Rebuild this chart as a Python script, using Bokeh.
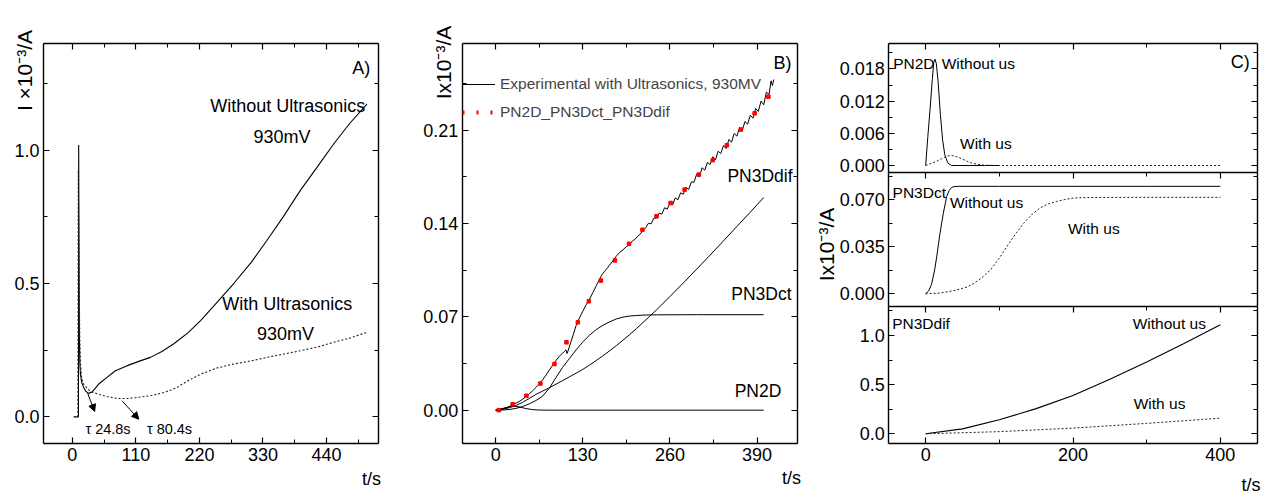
from bokeh.plotting import figure
from bokeh.layouts import row
from bokeh.models import (Range1d, LinearAxis, FixedTicker, Label, Arrow, NormalHead,
                          Legend, LegendItem)
from bokeh.embed import file_html
from bokeh.resources import INLINE

FONT = "Liberation Sans"

# ---------------- Panel A data ----------------
a_without_t = [2, 10.5, 10.9, 11.3, 11.7, 12.1, 13, 14, 16, 19.6, 23, 28.3, 34, 45.6, 60, 74.5,
               95, 115, 135, 155, 175, 200, 222, 250, 279, 310, 337, 365, 395, 425, 453, 480, 510]
a_without_i = [0, 0, 1.019, 0.75, 0.5, 0.3, 0.2, 0.16, 0.13, 0.11, 0.096, 0.088, 0.093, 0.123, 0.148, 0.173,
               0.192, 0.208, 0.223, 0.245, 0.273, 0.315, 0.361, 0.428, 0.499, 0.58, 0.662, 0.75, 0.85,
               0.94, 1.025, 1.1, 1.173]
a_with_t = [9.5, 10.2, 11, 12, 13, 14, 16, 18, 20, 22.5, 27, 34, 48, 60, 77, 95, 110, 135, 160, 181,
            200, 222, 250, 279, 310, 337, 365, 395, 425, 453, 480, 510]
a_with_i = [0, 0.925, 0.7, 0.45, 0.28, 0.2, 0.15, 0.13, 0.122, 0.115, 0.103, 0.093, 0.083, 0.076,
            0.069, 0.069, 0.072, 0.079, 0.092, 0.11, 0.135, 0.16, 0.183, 0.198, 0.21, 0.223, 0.235,
            0.248, 0.262, 0.28, 0.295, 0.317]
a_xticks = [0, 110, 220, 330, 440]
a_xtick_labels = ["0", "110", "220", "330", "440"]
a_xminor = [55, 165, 275, 385, 495]
a_yticks = [0.0, 0.5, 1.0]
a_ytick_labels = ["0.0", "0.5", "1.0"]
a_yminor = [0.25, 0.75, 1.25]

# ---------------- Panel B data ----------------
exp_t = [0, 5, 10, 15, 20, 25, 30, 35, 40, 45, 50, 55, 60, 65, 70, 75, 80, 85, 90, 95, 100,
         103, 105, 106.5, 108, 112, 116, 120, 125, 130, 135, 140, 145, 150, 155, 158, 162, 166,
         170, 175, 180, 185, 190, 195,
         200, 204, 208, 212, 216, 220, 224, 228, 232, 236, 240, 244, 248, 252, 256, 260, 264,
         268, 272, 276, 280, 284, 288, 292, 296, 300, 304, 308, 312, 316, 320, 324, 328, 332,
         336, 340, 344, 348, 352, 356, 360, 364, 368, 372, 376, 380, 384, 388, 392, 396, 400,
         404, 408, 411, 413, 415]
exp_i = [0, 0.0004, 0.001, 0.0018, 0.0027, 0.004, 0.0052, 0.0065, 0.0082, 0.0100, 0.0122, 0.0145,
         0.0170, 0.0197, 0.0228, 0.0262, 0.0300, 0.0337, 0.0372, 0.0405, 0.0428,
         0.0442, 0.0452, 0.0425, 0.0445, 0.0508, 0.0570, 0.0635, 0.0692, 0.0742, 0.0790, 0.0832,
         0.0882, 0.0932, 0.0982, 0.1012, 0.1038, 0.1062, 0.1088, 0.112, 0.1155, 0.1183, 0.1203,
         0.1226,
         0.1245, 0.1268, 0.1282, 0.1305, 0.1322, 0.1352, 0.1368, 0.1402, 0.1398, 0.1440, 0.1442,
         0.1478, 0.1470, 0.1518, 0.1508, 0.1552, 0.1540, 0.1592, 0.1578, 0.1630, 0.1620, 0.1672,
         0.1655, 0.1712, 0.1710, 0.1770, 0.1748, 0.1818, 0.1800, 0.1858, 0.1842, 0.1900, 0.1878,
         0.1942, 0.1925, 0.1985, 0.1962, 0.2030, 0.2010, 0.2075, 0.2055, 0.2120, 0.2098, 0.2165,
         0.2145, 0.2212, 0.2190, 0.2262, 0.2240, 0.2318, 0.2290, 0.2385, 0.2368, 0.2470, 0.2435,
         0.2480]
fit_t = [4.5, 25.4, 45.8, 66.7, 87.7, 105.6, 122.6, 139, 157, 178, 199, 219, 240, 261, 282, 303,
         324, 345, 366, 386.5, 407]
fit_i = [0, 0.0045, 0.0108, 0.02, 0.0346, 0.0509, 0.0659, 0.0817, 0.0972, 0.1123, 0.1248, 0.1353,
         0.1454, 0.1554, 0.1654, 0.1767, 0.1875, 0.1987, 0.2105, 0.2226, 0.2351]
dif_t = [0, 10, 20, 30, 40, 50, 60, 70, 80, 90, 100, 110, 120, 130, 140, 150, 160, 170, 180, 190,
         200, 210, 220, 230, 240, 260, 280, 300, 320, 340, 360, 380, 400]
dif_i = [0, 0.0006, 0.0018, 0.0035, 0.0058, 0.0088, 0.0118, 0.0143, 0.0168, 0.0195, 0.0222, 0.025,
         0.0277, 0.0306, 0.0338, 0.0372, 0.0408, 0.0445, 0.0484, 0.0525, 0.0567, 0.0612, 0.0658,
         0.0705, 0.0752, 0.0852, 0.0954, 0.1058, 0.1163, 0.127, 0.1378, 0.1485, 0.1595]
ct_t = [0, 10, 20, 30, 40, 50, 60, 70, 80, 90, 100, 110, 120, 130, 140, 150, 160, 170, 180, 190,
        200, 210, 220, 240, 300, 400]
ct_i = [0, 0.0001, 0.0005, 0.0013, 0.0027, 0.0047, 0.0072, 0.0105, 0.0165, 0.0245, 0.0322, 0.0387,
        0.0452, 0.0512, 0.0562, 0.0604, 0.0637, 0.0662, 0.0684, 0.0698, 0.0706, 0.071, 0.0713,
        0.0715, 0.0716, 0.0716]
p2d_t = [0, 10, 20, 28, 35, 45, 55, 65, 80, 400]
p2d_i = [0, 0.0012, 0.0025, 0.003, 0.0025, 0.0012, 0.0004, 0.0001, 0, 0]
b_xticks = [0, 130, 260, 390]
b_xtick_labels = ["0", "130", "260", "390"]
b_xminor = [65, 195, 325]
b_yticks = [0.0, 0.07, 0.14, 0.21]
b_ytick_labels = ["0.00", "0.07", "0.14", "0.21"]
b_yminor = [0.035, 0.105, 0.175, 0.245]

# ---------------- Panel C data ----------------
c2d_wo_t = [0, 3, 6, 9, 11, 12.7, 14.5, 17, 20, 23, 26, 30, 35, 45, 60, 80, 100]
c2d_wo_i = [0, 0.0054, 0.0105, 0.016, 0.0192, 0.0198, 0.019, 0.0155, 0.0095, 0.0048, 0.002, 0.0005,
            0, 0, 0, 0, 0]
c2d_w_t = [0, 8, 15, 22, 28, 33, 38, 44, 50, 56, 62, 70, 80, 100, 200, 300, 400]
c2d_w_i = [0, 0.0004, 0.0008, 0.0013, 0.0017, 0.00185, 0.0018, 0.00155, 0.0012, 0.0008, 0.0005,
           0.00022, 0.00005, 0, 0, 0, 0]
cct_wo_t = [0, 4, 8, 12, 15, 19.5, 24, 28.6, 32, 35, 38, 45, 100, 200, 300, 400]
cct_wo_i = [0, 0.002, 0.007, 0.017, 0.0275, 0.045, 0.06, 0.0725, 0.077, 0.079, 0.0798, 0.08, 0.08,
            0.08, 0.08, 0.08]
cct_w_t = [0, 20, 40, 55, 65, 76, 87.5, 100, 110, 122, 133, 145, 155.6, 167, 178, 190, 201, 220,
           300, 400]
cct_w_i = [0, 0.0005, 0.0025, 0.0048, 0.0075, 0.0118, 0.0175, 0.0265, 0.035, 0.0445, 0.0525,
           0.0595, 0.064, 0.067, 0.0688, 0.0703, 0.0713, 0.0717, 0.0718, 0.0718]
cdif_wo_t = [0, 50, 100, 150, 200, 250, 300, 350, 400]
cdif_wo_i = [0, 0.05, 0.142, 0.256, 0.39, 0.555, 0.729, 0.915, 1.108]
cdif_w_t = [0, 100, 200, 300, 400]
cdif_w_i = [0, 0.022, 0.058, 0.106, 0.159]
c_xticks = [0, 200, 400]
c_xtick_labels = ["0", "200", "400"]
c_xminor = [100, 300]
c1_yticks = [0.0, 0.006, 0.012, 0.018]
c1_ytick_labels = ["0.000", "0.006", "0.012", "0.018"]
c1_yminor = [0.003, 0.009, 0.015, 0.021]
c2_yticks = [0.0, 0.035, 0.07]
c2_ytick_labels = ["0.000", "0.035", "0.070"]
c2_yminor = [0.0175, 0.0525, 0.0875]
c3_yticks = [0.0, 0.5, 1.0]
c3_ytick_labels = ["0.0", "0.5", "1.0"]
c3_yminor = [0.25, 0.75, 1.25]

H = 493  # canvas height of every panel
TICK_SIZE = "18px"


def span_range(size, lo_px, hi_px, lo, hi, flip=False):
    """Range whose [lo, hi] data interval falls on canvas pixels [lo_px, hi_px]."""
    s = (hi - lo) / (hi_px - lo_px)
    if flip:  # vertical: lo_px is the top pixel of the box, hi_px its bottom pixel
        return Range1d(lo - (size - hi_px) * s, hi + lo_px * s)
    return Range1d(lo - lo_px * s, hi + (size - hi_px) * s)


def make_panel(w, box, xlim, ylim):
    l, t, r, b = box
    p = figure(width=w, height=H, x_range=span_range(w, l, r, *xlim),
               y_range=span_range(H, t, b, *ylim, flip=True),
               output_backend="svg", toolbar_location=None, title=None,
               x_axis_location=None, y_axis_location=None,
               min_border=0, min_border_left=0, min_border_right=0,
               min_border_top=0, min_border_bottom=0)
    p.grid.visible = False
    p.outline_line_color = None
    p.background_fill_color = "white"
    p.border_fill_color = "white"
    return p


def add_axis(p, side, fixed, bounds, ticks, labels, minor, show, yname="default"):
    ax = LinearAxis(fixed_location=fixed, bounds=bounds, y_range_name=yname)
    ax.ticker = FixedTicker(ticks=ticks, minor_ticks=minor)
    ax.axis_line_color = "black"
    ax.axis_line_width = 1.4
    ax.major_tick_in = 6
    ax.major_tick_out = 0
    ax.minor_tick_in = 4
    ax.minor_tick_out = 0
    ax.major_tick_line_color = "black"
    ax.minor_tick_line_color = "black"
    ax.major_tick_line_width = 1.2
    ax.minor_tick_line_width = 1.0
    ax.axis_label = None
    if show:
        ax.major_label_overrides = dict(zip(ticks, labels))
        ax.major_label_text_font = FONT
        ax.major_label_text_font_size = TICK_SIZE
        ax.major_label_text_color = "black"
        ax.major_label_standoff = 4
    else:
        ax.major_label_text_font_size = "0px"
        ax.major_label_standoff = 0
        ax.major_label_text_color = None
    p.add_layout(ax, side)


def box_axes(p, xlim, ylim, xt, xl, xm, yt, yl, ym, yname="default", top=True, bottom=True,
             show_x=True):
    if bottom:
        add_axis(p, "below", ylim[0], xlim, xt, xl, xm, show_x, yname)
    if top:
        add_axis(p, "above", ylim[1], xlim, xt, xl, xm, False, yname)
    add_axis(p, "left", xlim[0], ylim, yt, yl, ym, True, yname)
    add_axis(p, "right", xlim[1], ylim, yt, yl, ym, False, yname)


def txt(p, x, y, s, size="18px", align="center", units="data", angle=0.0, yname="default"):
    p.add_layout(Label(x=x, y=y, text=s, text_font=FONT, text_font_size=size,
                       text_align=align, text_baseline="middle", text_color="black",
                       x_units=units, y_units=units, angle=angle, y_range_name=yname))


# ---------------- Panel A ----------------
A_X, A_Y = (-50, 530), (-0.1, 1.4)
pA = make_panel(418, (43, 43, 378, 443), A_X, A_Y)
box_axes(pA, A_X, A_Y, a_xticks, a_xtick_labels, a_xminor, a_yticks, a_ytick_labels, a_yminor)
pA.line(a_without_t, a_without_i, line_color="black", line_width=1.1)
pA.line(a_with_t, a_with_i, line_color="#222222", line_width=1.1, line_dash="2 2")
pA.add_layout(Arrow(end=NormalHead(size=7, fill_color="black", line_color="black"),
                    x_start=26.5, y_start=0.088, x_end=38.6, y_end=0.02, line_width=1))
pA.add_layout(Arrow(end=NormalHead(size=7, fill_color="black", line_color="black"),
                    x_start=86, y_start=0.06, x_end=115, y_end=-0.009, line_width=1))
txt(pA, 373, 1.165, "Without Ultrasonics")
txt(pA, 363, 1.05, "930mV")
txt(pA, 372, 0.425, "With Ultrasonics")
txt(pA, 369, 0.312, "930mV")
txt(pA, 22.5, -0.045, "\u03c4 24.8s", size="14.5px", align="left")
txt(pA, 129, -0.045, "\u03c4 80.4s", size="14.5px", align="left")
txt(pA, 500, 1.307, "A)")
txt(pA, 24, 423, "I \u00d710\u207b\u00b3/A", size="21px", units="screen", angle=1.5708)
txt(pA, 371, 15, "t/s", units="screen")

# ---------------- Panel B ----------------
B_X, B_Y = (-50, 450), (-0.025, 0.275)
pB = make_panel(397, (43.7, 43, 378.7, 443), B_X, B_Y)
box_axes(pB, B_X, B_Y, b_xticks, b_xtick_labels, b_xminor, b_yticks, b_ytick_labels, b_yminor)
r_exp = pB.line(exp_t, exp_i, line_color="black", line_width=1)
pB.line(dif_t, dif_i, line_color="black", line_width=1)
pB.line(ct_t, ct_i, line_color="black", line_width=1)
pB.line(p2d_t, p2d_i, line_color="black", line_width=1)
pB.scatter(fit_t, fit_i, marker="square", size=3.5, fill_color="#ff0000", line_color="#ff0000")
# legend swatch for the fitted points (three red dots); its line lies on a range out of view
pB.extra_y_ranges = {"swatch": Range1d(100, 101)}
r_leg = pB.line(fit_t, fit_i, y_range_name="swatch", line_color="#ff0000", line_width=4,
                line_dash="2 12")
leg = Legend(items=[LegendItem(label="Experimental with Ultrasonics, 930MV", renderers=[r_exp]),
                    LegendItem(label="PN2D_PN3Dct_PN3Ddif", renderers=[r_leg])],
             location=(44, 371), margin=0, padding=0, spacing=8, glyph_width=33, glyph_height=20,
             label_height=20, label_standoff=5, label_text_font=FONT,
             label_text_font_size="15.5px", border_line_color=None, background_fill_alpha=0)
pB.add_layout(leg)
txt(pB, 394.5, 0.176, "PN3Ddif", size="17.5px")
txt(pB, 396.6, 0.0872, "PN3Dct", size="17.5px")
txt(pB, 391.5, 0.0145, "PN2D", size="17.5px")
txt(pB, 428, 0.2601, "B)")
txt(pB, 25, 431, "Ix10\u207b\u00b3/A", size="21px", units="screen", angle=1.5708)
txt(pB, 373, 16, "t/s", units="screen")

# ---------------- Panel C (three stacked boxes on one canvas) ----------------
C_W, C_L, C_R = 446, 73.3, 441.7
C_X = (-50, 450)
C1_Y, C2_Y, C3_Y = (-0.00136, 0.02268), (-0.0095, 0.0901), (-0.1016, 1.294)
pC = make_panel(C_W, (C_L, 306, C_R, 443.3), C_X, C3_Y)
pC.extra_y_ranges = {"c1": span_range(H, 43.3, 172.3, *C1_Y, flip=True),
                     "c2": span_range(H, 172.3, 306, *C2_Y, flip=True)}
box_axes(pC, C_X, C1_Y, c_xticks, c_xtick_labels, c_xminor, c1_yticks, c1_ytick_labels, c1_yminor,
         yname="c1", bottom=False)
box_axes(pC, C_X, C2_Y, c_xticks, c_xtick_labels, c_xminor, c2_yticks, c2_ytick_labels, c2_yminor,
         yname="c2", bottom=False)
box_axes(pC, C_X, C3_Y, c_xticks, c_xtick_labels, c_xminor, c3_yticks, c3_ytick_labels, c3_yminor)

pC.line(c2d_wo_t, c2d_wo_i, y_range_name="c1", line_color="black", line_width=1)
pC.line(c2d_w_t, c2d_w_i, y_range_name="c1", line_color="#222222", line_width=1, line_dash="2 2")
pC.line(cct_wo_t, cct_wo_i, y_range_name="c2", line_color="black", line_width=1)
pC.line(cct_w_t, cct_w_i, y_range_name="c2", line_color="#222222", line_width=1, line_dash="2 2")
pC.line(cdif_wo_t, cdif_wo_i, line_color="black", line_width=1.1)
pC.line(cdif_w_t, cdif_w_i, line_color="#222222", line_width=1, line_dash="2 2")

txt(pC, -44, 0.019, "PN2D", size="15.5px", align="left", yname="c1")
txt(pC, 21.8, 0.019, "Without us", size="15.5px", align="left", yname="c1")
txt(pC, 46.7, 0.00404, "With us", size="15.5px", align="left", yname="c1")
txt(pC, 427, 0.0193, "C)", yname="c1")
txt(pC, -44.9, 0.0757, "PN3Dct", size="15.5px", align="left", yname="c2")
txt(pC, 33, 0.0682, "Without us", size="15.5px", align="left", yname="c2")
txt(pC, 193.2, 0.0484, "With us", size="15.5px", align="left", yname="c2")
txt(pC, -45.4, 1.118, "PN3Ddif", size="15.5px", align="left")
txt(pC, 281, 1.118, "Without us", size="15.5px", align="left")
txt(pC, 282.4, 0.305, "With us", size="15.5px", align="left")
txt(pC, 11, 249, "Ix10\u207b\u00b3/A", size="21px", units="screen", angle=1.5708)
txt(pC, 445, 9, "t/s", align="right", units="screen")

layout = row(pA, pB, pC)
open("out.html", "w").write(file_html(layout, INLINE))
